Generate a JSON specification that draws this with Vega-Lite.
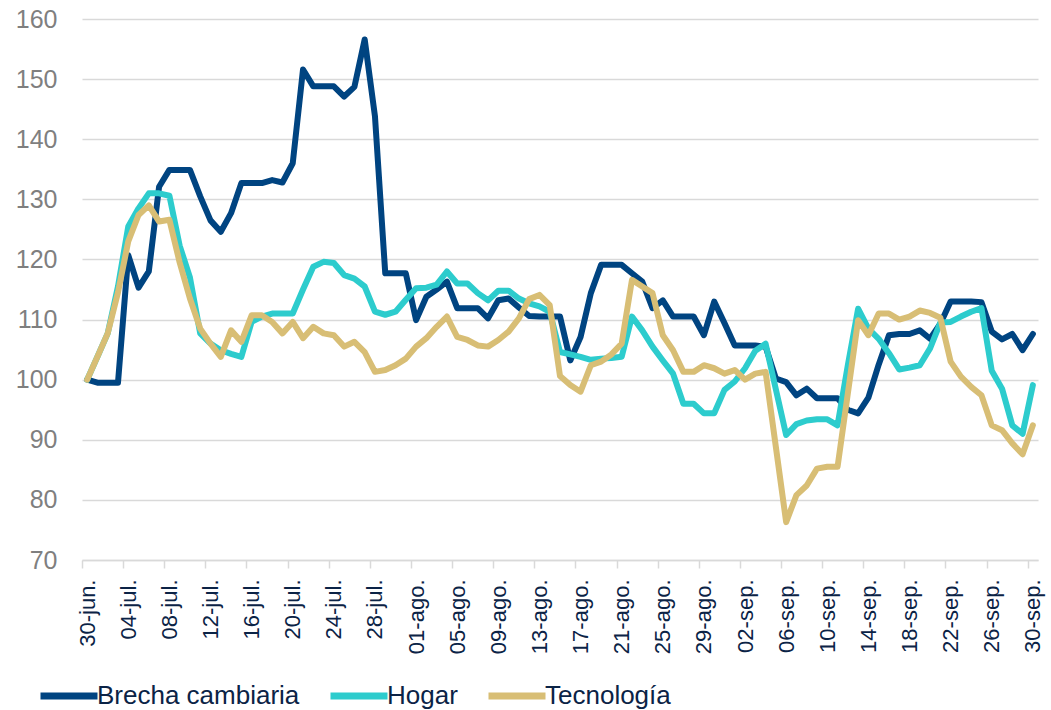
{
  "$schema": "https://vega.github.io/schema/vega-lite/v6.json",
  "width": 956,
  "height": 541,
  "autosize": {"type": "none"},
  "padding": {"left": 82, "top": 19, "right": 13, "bottom": 150},
  "background": "white",
  "config": {"view": {"stroke": null}, "font": "Liberation Sans"},
  "data": {"values": [
    {"d": "2022-06-30", "Brecha cambiaria": 100, "Hogar": 100, "Tecnología": 100},
    {"d": "2022-07-01", "Brecha cambiaria": 99.5, "Hogar": 103.8, "Tecnología": 103.8},
    {"d": "2022-07-02", "Brecha cambiaria": 99.5, "Hogar": 107.7, "Tecnología": 107.7},
    {"d": "2022-07-03", "Brecha cambiaria": 99.5, "Hogar": 115.5, "Tecnología": 114.5},
    {"d": "2022-07-04", "Brecha cambiaria": 120.7, "Hogar": 125.5, "Tecnología": 123},
    {"d": "2022-07-05", "Brecha cambiaria": 115.3, "Hogar": 128.5, "Tecnología": 127.4},
    {"d": "2022-07-06", "Brecha cambiaria": 118, "Hogar": 131, "Tecnología": 129},
    {"d": "2022-07-07", "Brecha cambiaria": 132.1, "Hogar": 131, "Tecnología": 126.3},
    {"d": "2022-07-08", "Brecha cambiaria": 134.9, "Hogar": 130.6, "Tecnología": 126.6},
    {"d": "2022-07-09", "Brecha cambiaria": 134.9, "Hogar": 122.3, "Tecnología": 119.5},
    {"d": "2022-07-10", "Brecha cambiaria": 134.9, "Hogar": 117, "Tecnología": 113.5},
    {"d": "2022-07-11", "Brecha cambiaria": 130.5, "Hogar": 107.7, "Tecnología": 108.5},
    {"d": "2022-07-12", "Brecha cambiaria": 126.5, "Hogar": 106, "Tecnología": 106},
    {"d": "2022-07-13", "Brecha cambiaria": 124.6, "Hogar": 104.9, "Tecnología": 103.8},
    {"d": "2022-07-14", "Brecha cambiaria": 127.7, "Hogar": 104.3, "Tecnología": 108.2},
    {"d": "2022-07-15", "Brecha cambiaria": 132.7, "Hogar": 103.8, "Tecnología": 106.3},
    {"d": "2022-07-16", "Brecha cambiaria": 132.7, "Hogar": 109.6, "Tecnología": 110.7},
    {"d": "2022-07-17", "Brecha cambiaria": 132.7, "Hogar": 110.5, "Tecnología": 110.7},
    {"d": "2022-07-18", "Brecha cambiaria": 133.2, "Hogar": 111, "Tecnología": 109.6},
    {"d": "2022-07-19", "Brecha cambiaria": 132.8, "Hogar": 111, "Tecnología": 107.7},
    {"d": "2022-07-20", "Brecha cambiaria": 136, "Hogar": 111, "Tecnología": 109.6},
    {"d": "2022-07-21", "Brecha cambiaria": 151.6, "Hogar": 115, "Tecnología": 106.9},
    {"d": "2022-07-22", "Brecha cambiaria": 148.8, "Hogar": 118.8, "Tecnología": 108.8},
    {"d": "2022-07-23", "Brecha cambiaria": 148.8, "Hogar": 119.6, "Tecnología": 107.7},
    {"d": "2022-07-24", "Brecha cambiaria": 148.8, "Hogar": 119.4, "Tecnología": 107.4},
    {"d": "2022-07-25", "Brecha cambiaria": 147.1, "Hogar": 117.4, "Tecnología": 105.5},
    {"d": "2022-07-26", "Brecha cambiaria": 148.7, "Hogar": 116.8, "Tecnología": 106.3},
    {"d": "2022-07-27", "Brecha cambiaria": 156.6, "Hogar": 115.5, "Tecnología": 104.6},
    {"d": "2022-07-28", "Brecha cambiaria": 143.8, "Hogar": 111.3, "Tecnología": 101.3},
    {"d": "2022-07-29", "Brecha cambiaria": 117.7, "Hogar": 110.8, "Tecnología": 101.6},
    {"d": "2022-07-30", "Brecha cambiaria": 117.7, "Hogar": 111.3, "Tecnología": 102.4},
    {"d": "2022-07-31", "Brecha cambiaria": 117.7, "Hogar": 113.3, "Tecnología": 103.5},
    {"d": "2022-08-01", "Brecha cambiaria": 109.9, "Hogar": 115.2, "Tecnología": 105.5},
    {"d": "2022-08-02", "Brecha cambiaria": 113.8, "Hogar": 115.3, "Tecnología": 106.9},
    {"d": "2022-08-03", "Brecha cambiaria": 115, "Hogar": 115.8, "Tecnología": 108.8},
    {"d": "2022-08-04", "Brecha cambiaria": 116.3, "Hogar": 118, "Tecnología": 110.5},
    {"d": "2022-08-05", "Brecha cambiaria": 111.9, "Hogar": 116, "Tecnología": 107.1},
    {"d": "2022-08-06", "Brecha cambiaria": 111.9, "Hogar": 116, "Tecnología": 106.6},
    {"d": "2022-08-07", "Brecha cambiaria": 111.9, "Hogar": 114.4, "Tecnología": 105.7},
    {"d": "2022-08-08", "Brecha cambiaria": 110.2, "Hogar": 113.2, "Tecnología": 105.5},
    {"d": "2022-08-09", "Brecha cambiaria": 113.2, "Hogar": 114.8, "Tecnología": 106.6},
    {"d": "2022-08-10", "Brecha cambiaria": 113.5, "Hogar": 114.8, "Tecnología": 108},
    {"d": "2022-08-11", "Brecha cambiaria": 112, "Hogar": 113.5, "Tecnología": 110.2},
    {"d": "2022-08-12", "Brecha cambiaria": 110.6, "Hogar": 112.7, "Tecnología": 113.4},
    {"d": "2022-08-13", "Brecha cambiaria": 110.5, "Hogar": 112.2, "Tecnología": 114.1},
    {"d": "2022-08-14", "Brecha cambiaria": 110.5, "Hogar": 111.3, "Tecnología": 112.4},
    {"d": "2022-08-15", "Brecha cambiaria": 110.5, "Hogar": 104.6, "Tecnología": 100.6},
    {"d": "2022-08-16", "Brecha cambiaria": 103.2, "Hogar": 104.2, "Tecnología": 99.1},
    {"d": "2022-08-17", "Brecha cambiaria": 107.1, "Hogar": 103.8, "Tecnología": 98},
    {"d": "2022-08-18", "Brecha cambiaria": 114.4, "Hogar": 103.3, "Tecnología": 102.4},
    {"d": "2022-08-19", "Brecha cambiaria": 119.1, "Hogar": 103.5, "Tecnología": 103},
    {"d": "2022-08-20", "Brecha cambiaria": 119.1, "Hogar": 103.6, "Tecnología": 104.2},
    {"d": "2022-08-21", "Brecha cambiaria": 119.1, "Hogar": 103.8, "Tecnología": 106},
    {"d": "2022-08-22", "Brecha cambiaria": 117.7, "Hogar": 110.5, "Tecnología": 116.6},
    {"d": "2022-08-23", "Brecha cambiaria": 116.3, "Hogar": 108.2, "Tecnología": 115.5},
    {"d": "2022-08-24", "Brecha cambiaria": 111.9, "Hogar": 105.5, "Tecnología": 114.4},
    {"d": "2022-08-25", "Brecha cambiaria": 113.2, "Hogar": 103.2, "Tecnología": 107.4},
    {"d": "2022-08-26", "Brecha cambiaria": 110.5, "Hogar": 101, "Tecnología": 104.9},
    {"d": "2022-08-27", "Brecha cambiaria": 110.5, "Hogar": 96, "Tecnología": 101.3},
    {"d": "2022-08-28", "Brecha cambiaria": 110.5, "Hogar": 96, "Tecnología": 101.3},
    {"d": "2022-08-29", "Brecha cambiaria": 107.4, "Hogar": 94.4, "Tecnología": 102.4},
    {"d": "2022-08-30", "Brecha cambiaria": 113, "Hogar": 94.4, "Tecnología": 101.9},
    {"d": "2022-08-31", "Brecha cambiaria": 109.4, "Hogar": 98.3, "Tecnología": 101},
    {"d": "2022-09-01", "Brecha cambiaria": 105.7, "Hogar": 99.7, "Tecnología": 101.6},
    {"d": "2022-09-02", "Brecha cambiaria": 105.7, "Hogar": 101.9, "Tecnología": 100},
    {"d": "2022-09-03", "Brecha cambiaria": 105.7, "Hogar": 104.8, "Tecnología": 101},
    {"d": "2022-09-04", "Brecha cambiaria": 105.5, "Hogar": 106, "Tecnología": 101.3},
    {"d": "2022-09-05", "Brecha cambiaria": 100.2, "Hogar": 98.4, "Tecnología": 88.8},
    {"d": "2022-09-06", "Brecha cambiaria": 99.6, "Hogar": 90.8, "Tecnología": 76.3},
    {"d": "2022-09-07", "Brecha cambiaria": 97.4, "Hogar": 92.6, "Tecnología": 80.8},
    {"d": "2022-09-08", "Brecha cambiaria": 98.5, "Hogar": 93.2, "Tecnología": 82.4},
    {"d": "2022-09-09", "Brecha cambiaria": 96.9, "Hogar": 93.4, "Tecnología": 85.2},
    {"d": "2022-09-10", "Brecha cambiaria": 96.9, "Hogar": 93.4, "Tecnología": 85.5},
    {"d": "2022-09-11", "Brecha cambiaria": 96.9, "Hogar": 92.4, "Tecnología": 85.5},
    {"d": "2022-09-12", "Brecha cambiaria": 95, "Hogar": 102.4, "Tecnología": 97.7},
    {"d": "2022-09-13", "Brecha cambiaria": 94.4, "Hogar": 111.8, "Tecnología": 109.9},
    {"d": "2022-09-14", "Brecha cambiaria": 97, "Hogar": 108.5, "Tecnología": 107.4},
    {"d": "2022-09-15", "Brecha cambiaria": 102.5, "Hogar": 106.8, "Tecnología": 111},
    {"d": "2022-09-16", "Brecha cambiaria": 107.4, "Hogar": 104.4, "Tecnología": 111},
    {"d": "2022-09-17", "Brecha cambiaria": 107.6, "Hogar": 101.7, "Tecnología": 110},
    {"d": "2022-09-18", "Brecha cambiaria": 107.6, "Hogar": 102, "Tecnología": 110.5},
    {"d": "2022-09-19", "Brecha cambiaria": 108.2, "Hogar": 102.4, "Tecnología": 111.5},
    {"d": "2022-09-20", "Brecha cambiaria": 106.8, "Hogar": 105.2, "Tecnología": 111.1},
    {"d": "2022-09-21", "Brecha cambiaria": 109.3, "Hogar": 109.5, "Tecnología": 110.3},
    {"d": "2022-09-22", "Brecha cambiaria": 113, "Hogar": 109.6, "Tecnología": 103},
    {"d": "2022-09-23", "Brecha cambiaria": 113, "Hogar": 110.5, "Tecnología": 100.5},
    {"d": "2022-09-24", "Brecha cambiaria": 113, "Hogar": 111.3, "Tecnología": 98.8},
    {"d": "2022-09-25", "Brecha cambiaria": 112.9, "Hogar": 111.9, "Tecnología": 97.4},
    {"d": "2022-09-26", "Brecha cambiaria": 108, "Hogar": 101.5, "Tecnología": 92.4},
    {"d": "2022-09-27", "Brecha cambiaria": 106.7, "Hogar": 98.5, "Tecnología": 91.6},
    {"d": "2022-09-28", "Brecha cambiaria": 107.6, "Hogar": 92.4, "Tecnología": 89.4},
    {"d": "2022-09-29", "Brecha cambiaria": 104.9, "Hogar": 91, "Tecnología": 87.6},
    {"d": "2022-09-30", "Brecha cambiaria": 107.6, "Hogar": 99.1, "Tecnología": 92.4}
  ]},
  "transform": [{"fold": ["Brecha cambiaria", "Hogar", "Tecnología"], "as": ["serie", "valor"]}],
  "mark": {"type": "line", "strokeWidth": 6, "strokeJoin": "round", "strokeCap": "round"},
  "encoding": {
    "x": {
      "field": "d",
      "type": "temporal",
      "scale": {"type": "utc", "domain": [
        {"year": 2022, "month": 6, "date": 29, "hours": 12, "utc": true},
        {"year": 2022, "month": 9, "date": 30, "hours": 12, "utc": true}
      ]},
      "axis": {
        "title": null,
        "grid": false,
        "values": [
          {"year": 2022, "month": 6, "date": 30, "utc": true},
          {"year": 2022, "month": 7, "date": 4, "utc": true},
          {"year": 2022, "month": 7, "date": 8, "utc": true},
          {"year": 2022, "month": 7, "date": 12, "utc": true},
          {"year": 2022, "month": 7, "date": 16, "utc": true},
          {"year": 2022, "month": 7, "date": 20, "utc": true},
          {"year": 2022, "month": 7, "date": 24, "utc": true},
          {"year": 2022, "month": 7, "date": 28, "utc": true},
          {"year": 2022, "month": 8, "date": 1, "utc": true},
          {"year": 2022, "month": 8, "date": 5, "utc": true},
          {"year": 2022, "month": 8, "date": 9, "utc": true},
          {"year": 2022, "month": 8, "date": 13, "utc": true},
          {"year": 2022, "month": 8, "date": 17, "utc": true},
          {"year": 2022, "month": 8, "date": 21, "utc": true},
          {"year": 2022, "month": 8, "date": 25, "utc": true},
          {"year": 2022, "month": 8, "date": 29, "utc": true},
          {"year": 2022, "month": 9, "date": 2, "utc": true},
          {"year": 2022, "month": 9, "date": 6, "utc": true},
          {"year": 2022, "month": 9, "date": 10, "utc": true},
          {"year": 2022, "month": 9, "date": 14, "utc": true},
          {"year": 2022, "month": 9, "date": 18, "utc": true},
          {"year": 2022, "month": 9, "date": 22, "utc": true},
          {"year": 2022, "month": 9, "date": 26, "utc": true},
          {"year": 2022, "month": 9, "date": 30, "utc": true}
        ],
        "labelExpr": "utcFormat(datum.value, '%d') + '-' + ['ene','feb','mar','abr','may','jun','jul','ago','sep','oct','nov','dic'][utcmonth(datum.value)] + '.'",
        "labelAngle": -90,
        "labelFont": "Liberation Sans",
        "labelFontSize": 22,
        "labelColor": "#0B2346",
        "labelOverlap": false,
        "labelFlush": false,
        "labelBound": false,
        "labelPadding": 11,
        "tickOffset": -5.14,
        "labelOffset": 5.14,
        "tickSize": 8,
        "tickColor": "#D9D9D9",
        "tickWidth": 1.5,
        "domainColor": "#D9D9D9",
        "domainWidth": 1.5
      }
    },
    "y": {
      "field": "valor",
      "type": "quantitative",
      "scale": {"domain": [70, 160], "nice": false, "zero": false},
      "axis": {
        "title": null,
        "values": [70, 80, 90, 100, 110, 120, 130, 140, 150, 160],
        "grid": true,
        "gridColor": "#D9D9D9",
        "gridWidth": 1.5,
        "domain": false,
        "ticks": false,
        "labelPadding": 25,
        "labelFont": "Liberation Sans",
        "labelFontSize": 25,
        "labelColor": "#7F7F7F"
      }
    },
    "color": {
      "field": "serie",
      "type": "nominal",
      "scale": {"domain": ["Brecha cambiaria", "Hogar", "Tecnología"], "range": ["#004481", "#2DCCCD", "#D8BE75"]},
      "legend": {
        "title": null,
        "orient": "none",
        "legendX": -45,
        "legendY": 645,
        "direction": "horizontal",
        "symbolType": "stroke",
        "symbolSize": 3249,
        "symbolStrokeWidth": 7,
        "labelFont": "Liberation Sans",
        "labelFontSize": 26,
        "labelColor": "#0B2346",
        "labelOffset": -4,
        "labelLimit": 0,
        "columnPadding": 16,
        "padding": 0
      }
    }
  }
}
